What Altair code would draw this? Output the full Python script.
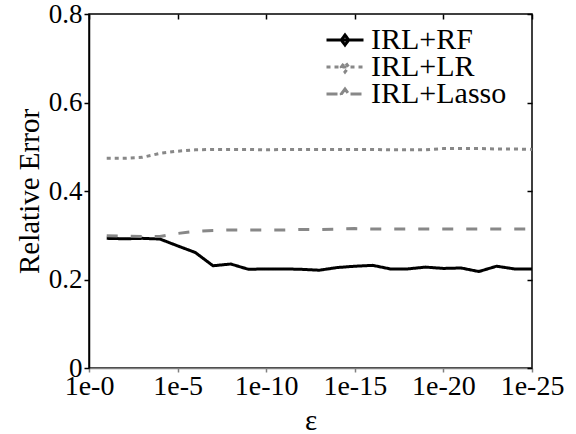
import altair as alt
import pandas as pd

eps_exp = list(range(1, 26))
rf = [0.293, 0.292, 0.293, 0.2915, 0.276, 0.261, 0.231, 0.235, 0.223, 0.224,
      0.224, 0.223, 0.221, 0.227, 0.230, 0.232, 0.224, 0.224, 0.228, 0.225,
      0.226, 0.218, 0.230, 0.224, 0.224]
lr = [0.474, 0.474, 0.476, 0.485, 0.490, 0.493, 0.494, 0.494, 0.494, 0.493,
      0.494, 0.494, 0.494, 0.494, 0.494, 0.494, 0.493, 0.493, 0.493, 0.496,
      0.496, 0.496, 0.495, 0.495, 0.494]
lasso = [0.299, 0.298, 0.297, 0.297, 0.304, 0.309, 0.311, 0.312, 0.312, 0.312,
         0.312, 0.313, 0.313, 0.314, 0.315, 0.314, 0.314, 0.314, 0.314, 0.314,
         0.314, 0.314, 0.314, 0.314, 0.314]
series_names = ["IRL+RF", "IRL+LR", "IRL+Lasso"]
series_colors = ["#000000", "#888888", "#888888"]
series_dash = [[1, 0], [4, 4], [11, 13]]
x_ticks = [0, 5, 10, 15, 20, 25]
y_ticks = [0, 0.2, 0.4, 0.6, 0.8]

rows = []
for name, vals in zip(series_names, [rf, lr, lasso]):
    for e, v in zip(eps_exp, vals):
        rows.append({"exp": e, "err": v, "method": name})
df = pd.DataFrame(rows)

FONT = "Liberation Serif, Times New Roman, serif"

legend = alt.Legend(
    orient="none", legendX=236, legendY=16, title=None,
    symbolType="M-1,0H1M-0.2,0L0,-0.27L0.2,0L0,0.27Z",
    symbolSize=1369, symbolStrokeWidth=3,
    labelFont=FONT, labelFontSize=30, labelOffset=6, rowPadding=-3,
    clipHeight=20, labelColor="black",
)

xscale = alt.Scale(domain=[0, 25], nice=False)
yscale = alt.Scale(domain=[0, 0.8], nice=False)

lines = alt.Chart(df).mark_line(strokeWidth=3).encode(
    x=alt.X("exp:Q", scale=xscale, axis=alt.Axis(
        values=x_ticks, labelExpr="'1e-' + datum.value", title="ε",
        domainColor="#808080", tickColor="#808080", tickSize=4,
        domainWidth=1.5, tickWidth=1.5,
        labelFontSize=28, labelColor="black", labelPadding=0,
        titleFontSize=29, titleFontWeight="normal",
        titleColor="black", titlePadding=6, grid=False, labelFlush=False)),
    y=alt.Y("err:Q", scale=yscale, axis=alt.Axis(
        values=y_ticks,
        labelExpr="datum.value == 0 ? '0' : format(datum.value, '.1f')",
        title="Relative Error", domainColor="black", tickColor="black",
        tickSize=5, domainWidth=1.5, tickWidth=1.5,
        labelFontSize=27, labelColor="black", labelPadding=2,
        titleFontSize=29, titleFontWeight="normal",
        titleColor="black", titleX=-60, titleY=177, titleAngle=-90,
        titleAlign="center", titleBaseline="middle", grid=False,
        labelFlush=False)),
    color=alt.Color("method:N", scale=alt.Scale(domain=series_names, range=series_colors), legend=legend),
    strokeDash=alt.StrokeDash("method:N", scale=alt.Scale(domain=series_names, range=series_dash), legend=legend),
)

mirror = alt.Chart(df).mark_line(opacity=0).encode(
    x=alt.X("exp:Q", scale=xscale, axis=alt.Axis(
        orient="top", values=x_ticks, labels=False, domain=False, title=None,
        tickColor="black", tickSize=5, tickWidth=1.5, offset=-5, grid=False)),
    y=alt.Y("err:Q", scale=yscale, axis=alt.Axis(
        orient="right", values=y_ticks, labels=False, domain=False, title=None,
        tickColor="black", tickSize=5, tickWidth=1.5, offset=-5, grid=False)),
)

chart = alt.layer(lines, mirror).resolve_axis(x="independent", y="independent").properties(
    width=443, height=354,
    autosize=alt.AutoSizeParams(type="none"),
    padding={"left": 89, "top": 14, "right": 44, "bottom": 66},
    background="white",
).configure(font=FONT).configure_axis(labelFont=FONT, titleFont=FONT).configure_legend(
    labelFont=FONT).configure_view(stroke="black", strokeWidth=1.5)

chart.save("out.html", embed_options={"renderer": "svg", "actions": False})
